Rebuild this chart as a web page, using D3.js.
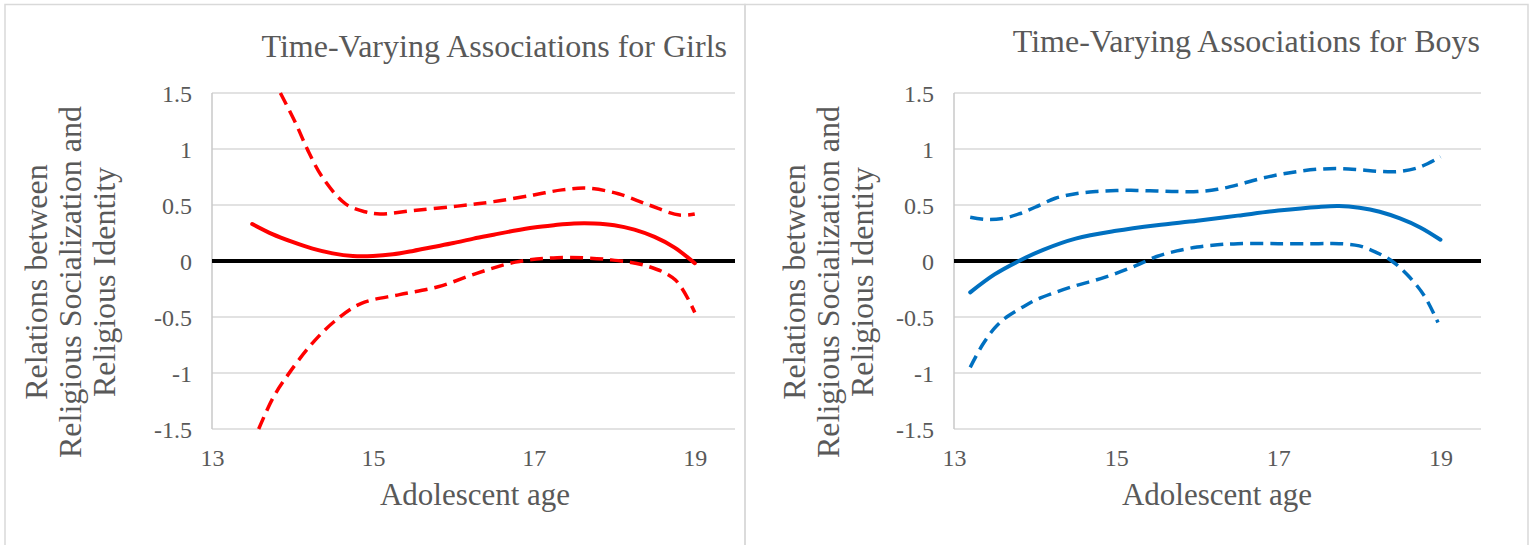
<!DOCTYPE html>
<html>
<head>
<meta charset="utf-8">
<script src="https://cdn.jsdelivr.net/npm/d3@7"></script>
</head>
<body style="margin:0;background:#fff">
<svg id="chart" width="1533" height="545" font-family="Liberation Serif" style="display:block;font-family:'Liberation Serif'"></svg>
<script>
// ---------- data ----------
const xTicks = [13, 15, 17, 19];
const yTicks = [1.5, 1, 0.5, 0, -0.5, -1, -1.5];
const ageDomain = [13, 19.5];
const valueDomain = [-1.5, 1.5];

const girlsTitle = "Time-Varying Associations for Girls";
const boysTitle = "Time-Varying Associations for Boys";
const xTitle = "Adolescent age";
const yTitleLines = ["Relations between", "Religious Socialization and", "Religious Identity"];

// [age, value]
const girlsEstimate = [
  [13.5, 0.33], [13.75, 0.24], [14, 0.17], [14.25, 0.11], [14.5, 0.068], [14.75, 0.045],
  [15, 0.045], [15.25, 0.06], [15.5, 0.09], [15.75, 0.125], [16, 0.16], [16.25, 0.2],
  [16.5, 0.235], [16.75, 0.27], [17, 0.3], [17.25, 0.32], [17.5, 0.335], [17.75, 0.335],
  [18, 0.32], [18.25, 0.28], [18.5, 0.215], [18.75, 0.12], [19, -0.02]
];
const girlsUpper = [
  [13.85, 1.5], [14.04, 1.23], [14.19, 0.99], [14.37, 0.75], [14.66, 0.51], [14.9, 0.44],
  [15.09, 0.42], [15.5, 0.45], [16.05, 0.49], [16.5, 0.53], [17, 0.59], [17.35, 0.635],
  [17.67, 0.65], [18.05, 0.6], [18.43, 0.5], [18.81, 0.41], [19, 0.42]
];
const girlsLower = [
  [13.58, -1.5], [13.76, -1.22], [13.95, -1.01], [14.24, -0.74], [14.52, -0.54], [14.85, -0.38],
  [15.33, -0.3], [15.81, -0.23], [16.29, -0.11], [16.77, -0.01], [17.29, 0.03], [17.96, 0.01],
  [18.43, -0.05], [18.76, -0.17], [19, -0.46]
];
const boysEstimate = [
  [13.2, -0.28], [13.5, -0.12], [13.8, 0.0], [14.1, 0.1], [14.5, 0.2], [15, 0.27],
  [15.5, 0.32], [16, 0.36], [16.5, 0.405], [17, 0.45], [17.5, 0.483], [17.75, 0.49],
  [18, 0.475], [18.25, 0.44], [18.5, 0.38], [18.75, 0.3], [19, 0.19]
];
const boysUpper = [
  [13.2, 0.39], [13.4, 0.37], [13.6, 0.38], [13.8, 0.42], [14, 0.48], [14.25, 0.56],
  [14.5, 0.6], [14.75, 0.62], [15, 0.63], [15.25, 0.63], [15.5, 0.625], [15.75, 0.62],
  [16, 0.62], [16.25, 0.64], [16.5, 0.68], [16.75, 0.73], [17, 0.77], [17.25, 0.8],
  [17.5, 0.82], [17.75, 0.825], [18, 0.815], [18.25, 0.8], [18.5, 0.8], [18.75, 0.84], [19, 0.93]
];
const boysLower = [
  [13.2, -0.95], [13.35, -0.75], [13.5, -0.6], [13.65, -0.5], [13.85, -0.41], [14, -0.35],
  [14.25, -0.28], [14.5, -0.22], [14.75, -0.17], [15, -0.11], [15.25, -0.04], [15.5, 0.04],
  [15.75, 0.09], [16, 0.125], [16.25, 0.145], [16.5, 0.155], [17, 0.155], [17.5, 0.155],
  [17.75, 0.155], [18, 0.135], [18.2, 0.08], [18.4, 0.0], [18.6, -0.13], [18.8, -0.31], [18.97, -0.55]
];
const zeroLine = [[13, 0], [19.5, 0]];

// ---------- layout ----------
const FONT = "Liberation Serif";
const TEXT_COLOR = "#595959";

const panels = [
  {
    id: "girls", color: "#FF0000", title: girlsTitle,
    frame: { x: 5, y: 4.5, w: 740, h: 560 },
    plot: { x0: 212, x1: 735, y0: 93, y1: 429 },
    titlePos: { x: 727, y: 57 },
    yTitleX: [47, 81, 115], yTitleCY: 282,
    xTitleX: 475, xTitleY: 505,
    est: girlsEstimate, up: girlsUpper, lo: girlsLower
  },
  {
    id: "boys", color: "#0070C0", title: boysTitle,
    frame: { x: 745, y: 4.5, w: 783, h: 560 },
    plot: { x0: 954, x1: 1481, y0: 93, y1: 429 },
    titlePos: { x: 1480, y: 52 },
    yTitleX: [805, 839, 873], yTitleCY: 282,
    xTitleX: 1217, xTitleY: 505,
    est: boysEstimate, up: boysUpper, lo: boysLower
  }
];

const svg = d3.select("#chart");

function styleText(sel, size) {
  return sel.attr("font-family", FONT).attr("font-size", size).attr("fill", TEXT_COLOR)
    .style("font-family", FONT).style("font-size", size + "px").style("fill", TEXT_COLOR);
}

panels.forEach(p => {
  const g = svg.append("g");
  g.append("rect")
    .attr("x", p.frame.x).attr("y", p.frame.y)
    .attr("width", p.frame.w).attr("height", p.frame.h)
    .attr("fill", "none").attr("stroke", "#d9d9d9").attr("stroke-width", 1.5);

  const x = d3.scaleLinear().domain(ageDomain).range([p.plot.x0, p.plot.x1]);
  const y = d3.scaleLinear().domain(valueDomain).range([p.plot.y1, p.plot.y0]);

  g.append("g").selectAll("line").data(yTicks).join("line")
    .attr("x1", x(ageDomain[0])).attr("x2", x(ageDomain[1]))
    .attr("y1", d => y(d)).attr("y2", d => y(d))
    .attr("stroke", "#d9d9d9").attr("stroke-width", 1.5);

  g.append("line")
    .attr("x1", x(ageDomain[0])).attr("x2", x(ageDomain[0]))
    .attr("y1", y(valueDomain[1])).attr("y2", y(valueDomain[0]))
    .attr("stroke", "#c8c8c8").attr("stroke-width", 1.5);

  const yAxis = d3.axisLeft(y).tickValues(yTicks).tickSize(0).tickPadding(20)
    .tickFormat(d => String(d));
  const ya = g.append("g").attr("transform", `translate(${x(ageDomain[0])},0)`).call(yAxis);
  ya.select(".domain").remove();
  ya.attr("font-family", FONT).attr("font-size", 24);
  styleText(ya.selectAll("text"), 24).attr("dy", "0.35em");

  const xAxis = d3.axisBottom(x).tickValues(xTicks).tickSize(0).tickPadding(0)
    .tickFormat(d => String(d));
  const xa = g.append("g").attr("transform", `translate(0,${y(valueDomain[0])})`).call(xAxis);
  xa.select(".domain").remove();
  xa.attr("font-family", FONT).attr("font-size", 24);
  styleText(xa.selectAll("text"), 24).attr("dy", null).attr("y", 37);

  const clipId = "clip-" + p.id;
  svg.append("clipPath").attr("id", clipId).append("rect")
    .attr("x", p.plot.x0).attr("y", p.plot.y0 - 2)
    .attr("width", p.plot.x1 - p.plot.x0).attr("height", p.plot.y1 - p.plot.y0 + 4);

  const line = d3.line().x(d => x(d[0])).y(d => y(d[1])).curve(d3.curveCatmullRom.alpha(0.5));
  const straight = d3.line().x(d => x(d[0])).y(d => y(d[1]));

  const marks = g.append("g").attr("clip-path", `url(#${clipId})`);
  marks.append("path").datum(zeroLine).attr("d", straight)
    .attr("fill", "none").attr("stroke", "#000").attr("stroke-width", 4);
  [p.up, p.lo].forEach(s => {
    marks.append("path").datum(s).attr("d", line)
      .attr("fill", "none").attr("stroke", p.color).attr("stroke-width", 3.5)
      .attr("stroke-dasharray", "13,7");
  });
  marks.append("path").datum(p.est).attr("d", line)
    .attr("fill", "none").attr("stroke", p.color).attr("stroke-width", 4)
    .attr("stroke-linecap", "round");

  styleText(g.append("text"), 32).attr("x", p.titlePos.x).attr("y", p.titlePos.y)
    .attr("text-anchor", "end").text(p.title);
  styleText(g.append("text"), 31).attr("x", p.xTitleX).attr("y", p.xTitleY)
    .attr("text-anchor", "middle").text(xTitle);
  yTitleLines.forEach((t, i) => {
    styleText(g.append("text"), 32)
      .attr("transform", `translate(${p.yTitleX[i]},${p.yTitleCY}) rotate(-90)`)
      .attr("text-anchor", "middle").text(t);
  });
});
</script>
</body>
</html>
